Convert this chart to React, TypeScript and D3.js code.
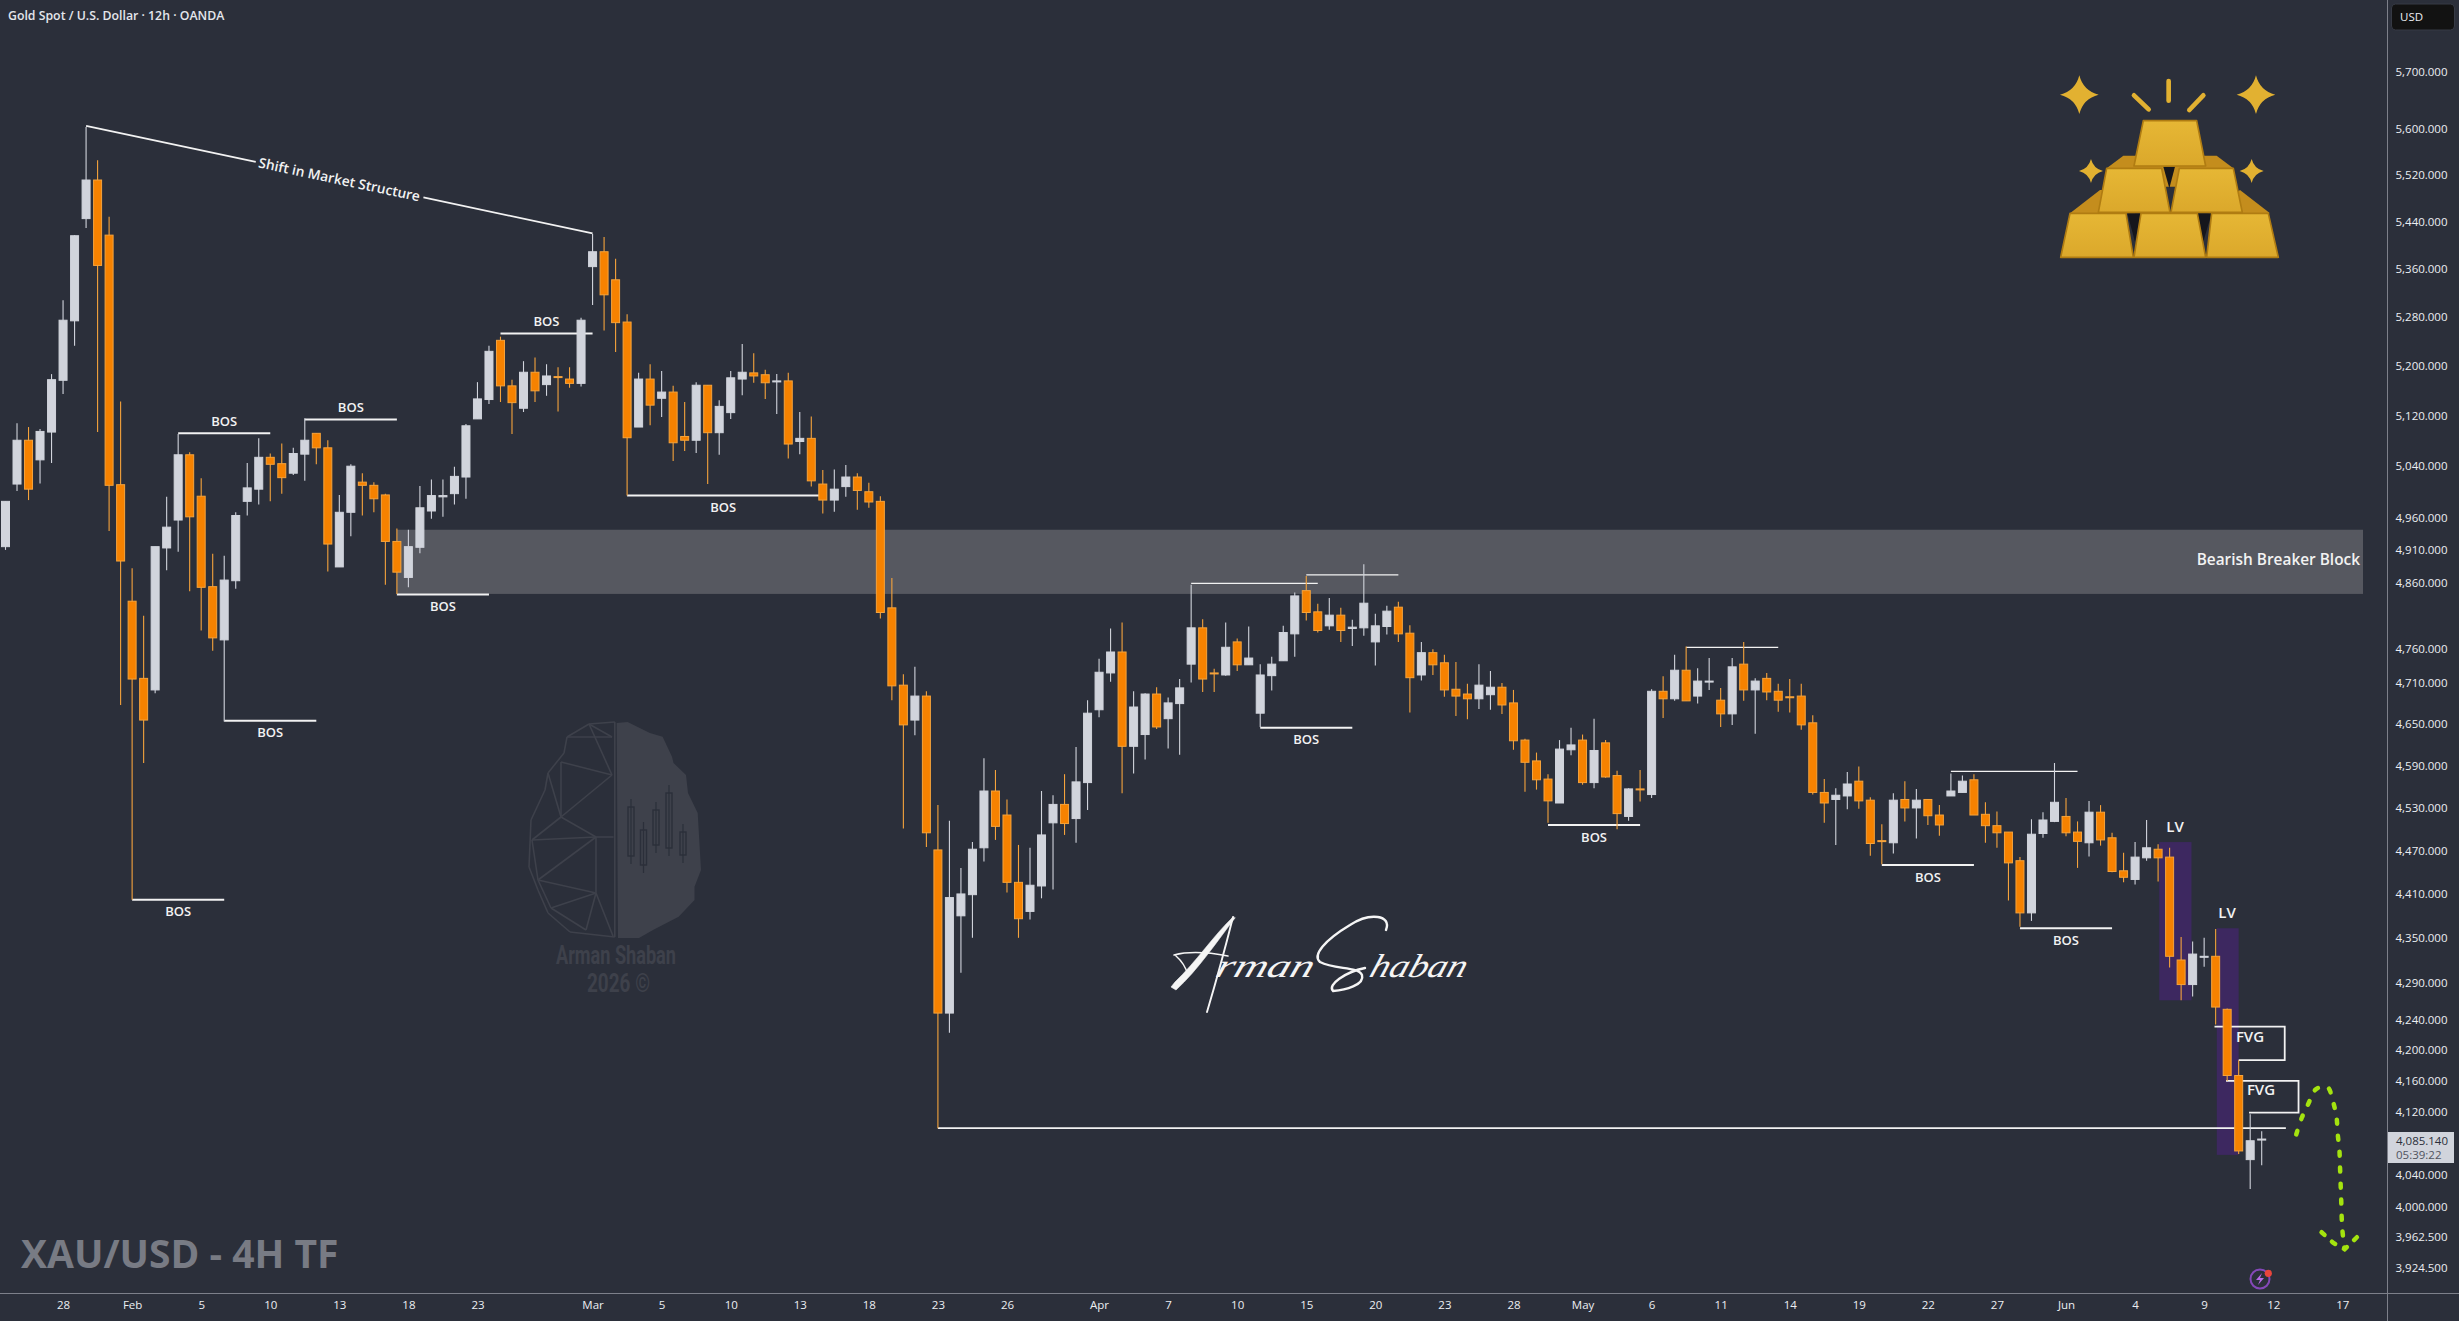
import { useEffect, useRef } from "react"
import * as d3 from 'd3'

const WIDTH = 2459
const HEIGHT = 1321
const AXIS_X = 2387.5
const AXIS_Y = 1293.5

const opens = [4915,5012,5081,5050,5094,5177,5274,5445,5511,5417,5011,4832,4717,4700,4913,4956,5058,4993,4854,4774,4863,4985,5004,5054,5044,5029,5059,5092,5069,4884,4968,5015,5010,4995,4923,4868,4914,4970,4992,4997,5023,5115,5146,5242,5168,5132,5190,5170,5183,5179,5172,5364,5389,5342,5272,5102,5179,5148,5158,5087,5081,5169,5093,5125,5179,5189,5186,5175,5176,5079,5084,5012,4987,5008,5023,5000,4985,4822,4707,4656,4691,4471,4249,4380,4409,4474,4554,4520,4426,4386,4421,4509,4535,4515,4566,4671,4725,4756,4618,4635,4694,4658,4680,4738,4792,4725,4722,4771,4737,4666,4721,4743,4783,4848,4816,4795,4811,4791,4792,4771,4794,4823,4784,4722,4755,4740,4701,4694,4687,4693,4704,4681,4627,4597,4571,4537,4613,4627,4566,4623,4576,4518,4557,4549,4698,4687,4729,4691,4712,4685,4665,4738,4700,4717,4698,4690,4691,4652,4552,4542,4547,4568,4541,4484,4481,4542,4530,4542,4520,4547,4552,4570,4521,4505,4496,4456,4384,4494,4511,4518,4496,4481,4524,4488,4442,4430,4460,4472,4461,4320,4287,4324,4325,4254,4167,4059,4084]
const highs = [4985,5108,5102,5099,5187,5308,5417,5603,5545,5448,5143,4882,4810,4915,4992,5091,5062,5021,4904,4901,4968,5045,5084,5060,5076,5069,5116,5092,5081,4995,5043,5029,5015,4997,4943,4941,5009,5019,5019,5039,5107,5174,5233,5248,5178,5208,5214,5203,5198,5198,5279,5419,5414,5377,5285,5189,5203,5192,5168,5142,5174,5169,5145,5192,5236,5221,5194,5187,5189,5126,5119,5034,5035,5042,5029,5014,4993,4867,4723,4734,4698,4534,4512,4446,4482,4601,4584,4542,4478,4474,4554,4548,4578,4617,4685,4746,4791,4800,4698,4695,4704,4689,4716,4857,4805,4731,4800,4776,4794,4738,4749,4795,4845,4870,4828,4837,4822,4804,4888,4813,4825,4831,4796,4771,4760,4752,4741,4709,4738,4728,4710,4700,4629,4609,4578,4627,4645,4635,4658,4627,4583,4558,4584,4701,4720,4752,4764,4732,4747,4703,4747,4771,4717,4725,4709,4716,4709,4663,4571,4558,4581,4589,4545,4507,4551,4568,4557,4542,4534,4579,4576,4578,4538,4525,4496,4461,4514,4524,4594,4544,4511,4540,4534,4495,4467,4482,4513,4479,4474,4351,4345,4350,4362,4255,4187,4117,4095]
const lows = [4910,5001,4987,5013,5045,5155,5233,5429,5094,4939,4678,4402,4594,4695,4879,4907,4847,4788,4758,4654,4851,4963,4980,4985,4997,5026,5017,5043,4877,4884,4931,4963,4968,4857,4843,4853,4905,4958,4961,4980,4989,5115,5139,5142,5091,5126,5142,5152,5127,5165,5167,5300,5258,5223,4994,5102,5105,5118,5048,5064,5061,5012,5058,5115,5153,5173,5147,5123,5052,5059,5008,4966,4969,4992,4972,4975,4806,4685,4501,4634,4475,4099,4223,4303,4350,4455,4485,4412,4350,4375,4404,4416,4492,4481,4527,4660,4712,4551,4579,4599,4643,4615,4606,4711,4697,4697,4721,4728,4737,4646,4699,4743,4749,4803,4785,4789,4771,4765,4780,4736,4782,4771,4667,4714,4722,4690,4662,4657,4672,4671,4665,4613,4553,4556,4509,4537,4605,4563,4558,4573,4500,4512,4539,4544,4659,4684,4684,4680,4700,4646,4649,4684,4636,4685,4668,4667,4642,4549,4509,4478,4528,4529,4463,4451,4466,4511,4487,4506,4491,4547,4552,4520,4481,4474,4401,4365,4373,4488,4510,4490,4446,4462,4477,4440,4426,4423,4456,4427,4310,4266,4271,4311,4234,4160,4066,4022,4052]
const closes = [4985,5081,5004,5095,5178,5275,5416,5511,5366,5010,4893,4716,4656,4915,4945,5058,4961,4853,4777,4864,4963,5006,5054,5043,5022,5060,5081,5069,4919,4968,5040,5010,4989,4923,4876,4915,4975,4994,4994,5024,5104,5147,5224,5168,5141,5190,5160,5184,5182,5172,5275,5389,5317,5271,5085,5179,5137,5158,5077,5081,5169,5093,5135,5181,5190,5184,5173,5176,5075,5084,5017,4987,5004,5023,5002,4984,4815,4706,4649,4691,4495,4249,4405,4410,4472,4554,4504,4426,4376,4422,4492,4535,4508,4567,4666,4726,4756,4618,4675,4694,4646,4681,4703,4792,4716,4724,4763,4737,4747,4722,4738,4785,4840,4815,4788,4811,4788,4793,4829,4795,4817,4783,4718,4755,4737,4700,4691,4687,4707,4704,4678,4626,4595,4570,4540,4614,4620,4566,4612,4574,4522,4557,4556,4698,4687,4729,4684,4713,4713,4665,4734,4700,4713,4697,4685,4689,4649,4552,4537,4548,4564,4540,4480,4483,4541,4530,4541,4519,4506,4554,4568,4520,4505,4495,4453,4384,4493,4513,4538,4495,4483,4524,4485,4441,4433,4461,4474,4460,4325,4287,4328,4325,4257,4167,4070,4083,4085.14]

const priceTicks = [5700,5600,5520,5440,5360,5280,5200,5120,5040,4960,4910,4860,4760,4710,4650,4590,4530,4470,4410,4350,4290,4240,4200,4160,4120,4040,4000,3962.5,3924.5]
const dateBars = [5,11,17,23,29,35,41,51,57,63,69,75,81,87,95,101,107,113,119,125,131,137,143,149,155,161,167,173,179,185,191,197,203]
const dateLabels = ['28','Feb','5','10','13','18','23','Mar','5','10','13','18','23','26','Apr','7','10','15','20','23','28','May','6','11','14','19','22','27','Jun','4','9','12','17']

// structure breaks: from bar, to bar, price, where the label goes
const bosFrom = [15,26,34,43,11,19,54,109,134,163,175]
const bosTo = [23,34,42,51,19,27,70.7,117,142,171,183]
const bosPrice = [5092,5114,4842,5253,4402,4655,4994,4645,4506,4450,4363]
const bosSide = [-1,-1,1,-1,1,1,1,1,1,1,1]
const highFrom = [103,113,146,169]
const highTo = [114,121,154,180]
const highPrice = [4859,4872,4763,4582]

const projectionBars = [199,199.5,200.07,200.7,201.7,202.2,202.5,202.6,202.75,202.8,202.9,203,203.2]
const projectionPrices = [4091,4113,4131,4149,4152,4133,4113,4092,4071,4051,4011,3972,3948]
const headBars = [201.2,202.2,203.2,204.5]
const headPrices = [3968,3955,3947,3965]

const gold = '#e2b131'
const goldDark = '#c48d1d'
const goldEdge = '#b07c12'
const shade = '#3e414b'

const starPath = (cx: number, cy: number, r: number) => {
  const k = r * 0.2
  return `M${cx},${cy - r}Q${cx + k},${cy - k} ${cx + r},${cy}Q${cx + k},${cy + k} ${cx},${cy + r}Q${cx - k},${cy + k} ${cx - r},${cy}Q${cx - k},${cy - k} ${cx},${cy - r}Z`
}

export default function App() {
  const svgRef = useRef<SVGSVGElement>(null)

  useEffect(() => {
    if (!svgRef.current) return
    const svg = d3.select(svgRef.current)
    svg.selectAll('*').remove()

    const x = d3.scaleLinear().domain([0, 196]).range([5.5, 2261.7])
    const y = d3.scaleLog().domain([5700, 3962.5]).range([72, 1236.7])
    const uiFont = '"Open Sans", "Noto Sans", sans-serif'

    svg.append('rect').attr('width', WIDTH).attr('height', HEIGHT).attr('fill', '#2b2f3a')

    // watermark logo
    const logo = svg.append('g')
    logo.append('path')
      .attr('d', 'M616.7,723L627.6,722L649.9,733L662.6,736.7L672,756.7L673.5,763L686,775L688,793L697.7,813L701,870L694.5,886.7L694.5,900L678.6,916.7L653,930L639,938L618,938Z')
      .attr('fill', shade)
    const mesh = [
      [614.8,722,589,724],[589,724,567,737],[567,737,564,753],[564,753,548,773],[548,773,545,790],[545,790,531,820],[531,820,529,867],[529,867,538,890],[538,890,548,913],[548,913,570,932],[570,932,614.8,937],
      [614.8,722,614.8,937],[561,762,612,775],[567,737,612,737],[589,724,612,737],[612,775,561,817],[561,817,596,837],[561,817,532,840],[532,840,596,837],[596,837,613.5,837],[596,837,538,880],[532,840,538,880],
      [596,837,596,893],[538,880,596,893],[596,893,551,908],[538,880,551,908],[596,893,586,930],[551,908,586,930],[596,893,613,936],[561,762,561,817],[589,724,612,775],[561,817,548,773],
    ]
    logo.selectAll('line.mesh').data(mesh).join('line')
      .attr('x1', d => d[0]).attr('y1', d => d[1]).attr('x2', d => d[2]).attr('y2', d => d[3])
      .attr('stroke', shade).attr('stroke-width', 1.6)
    const logoCandles = [[631,807,856],[643.5,830,865],[656,810,845],[669,793,848],[683,832,855]]
    logoCandles.forEach(c => {
      logo.append('rect').attr('x', c[0] - 3).attr('y', c[1]).attr('width', 6).attr('height', c[2] - c[1])
        .attr('fill', 'none').attr('stroke', '#2b2f3a').attr('stroke-width', 1.4)
      logo.append('line').attr('x1', c[0]).attr('x2', c[0]).attr('y1', c[1] - 8).attr('y2', c[2] + 8)
        .attr('stroke', '#2b2f3a').attr('stroke-width', 1.2)
    })
    logo.append('text').attr('x', 556).attr('y', 964)
      .attr('font-family', '"Roboto", sans-serif').attr('font-weight', 700).attr('font-size', 25)
      .attr('textLength', 120).attr('lengthAdjust', 'spacingAndGlyphs')
      .attr('fill', shade).text('Arman Shaban')
    logo.append('text').attr('x', 587).attr('y', 992)
      .attr('font-family', '"Roboto", sans-serif').attr('font-weight', 700).attr('font-size', 25)
      .attr('textLength', 63).attr('lengthAdjust', 'spacingAndGlyphs')
      .attr('fill', shade).text('2026 ©')

    // breaker block and low volume zones
    svg.append('rect').attr('x', 397).attr('width', 2363 - 397)
      .attr('y', y(4941)).attr('height', y(4843) - y(4941))
      .attr('fill', '#565860')
    svg.append('rect').attr('x', x(187.1)).attr('width', x(189.9) - x(187.1))
      .attr('y', y(4482)).attr('height', y(4266) - y(4482)).attr('fill', '#3d2860')
    svg.append('rect').attr('x', x(192.1)).attr('width', x(194)  - x(192.1))
      .attr('y', y(4363)).attr('height', y(4065) - y(4363)).attr('fill', '#3d2860')

    // candles
    const bars = d3.range(opens.length)
    const candles = svg.append('g')
    const upColor = '#d1d4dc'
    const wick = (i: number) => closes[i] >= opens[i] ? upColor : '#f5a33c'
    candles.selectAll('line').data(bars).join('line')
      .attr('x1', i => x(i)).attr('x2', i => x(i))
      .attr('y1', i => y(highs[i])).attr('y2', i => y(lows[i]))
      .attr('stroke', wick).attr('stroke-width', 1.1)
    candles.selectAll('rect').data(bars).join('rect')
      .attr('x', i => x(i) - 4)
      .attr('width', 8)
      .attr('y', i => y(Math.max(opens[i], closes[i])))
      .attr('height', i => Math.max(1, Math.abs(y(opens[i]) - y(closes[i]))))
      .attr('fill', i => closes[i] >= opens[i] ? upColor : '#f68200')
      .attr('stroke', wick).attr('stroke-width', 1)

    // structure lines
    const lines = svg.append('g').attr('stroke', '#f2f2f2').attr('fill', 'none')
    bosFrom.forEach((from, k) => {
      lines.append('line')
        .attr('x1', x(from)).attr('x2', x(bosTo[k]))
        .attr('y1', y(bosPrice[k])).attr('y2', y(bosPrice[k]))
        .attr('stroke-width', 2)
      svg.append('text')
        .attr('x', x((from + bosTo[k]) / 2)).attr('y', y(bosPrice[k]) + bosSide[k] * 12)
        .attr('dy', '.35em').attr('text-anchor', 'middle')
        .attr('font-family', uiFont).attr('font-weight', 600).attr('font-size', 13)
        .attr('fill', '#f2f2f2').text('BOS')
    })
    highFrom.forEach((from, k) => {
      lines.append('line')
        .attr('x1', x(from)).attr('x2', x(highTo[k]))
        .attr('y1', y(highPrice[k])).attr('y2', y(highPrice[k]))
        .attr('stroke-width', 1.3)
    })
    lines.append('line').attr('x1', x(81)).attr('x2', x(198.1))
      .attr('y1', y(4099)).attr('y2', y(4099)).attr('stroke-width', 1.8)

    // shift in market structure
    const mx0 = x(7), my0 = y(5605), mx1 = x(51), my1 = y(5420)
    const along = (t: number) => [mx0 + (mx1 - mx0) * t, my0 + (my1 - my0) * t]
    const a = along(0.335), b = along(0.666), c = along(0.5)
    lines.append('path').attr('d', `M${mx0},${my0}L${a[0]},${a[1]}M${b[0]},${b[1]}L${mx1},${my1}`).attr('stroke-width', 1.8)
    svg.append('text')
      .attr('transform', `translate(${c[0]},${c[1]}) rotate(${Math.atan2(my1 - my0, mx1 - mx0) * 180 / Math.PI})`)
      .attr('dy', '.35em').attr('text-anchor', 'middle')
      .attr('font-family', uiFont).attr('font-weight', 600).attr('font-size', 13.8)
      .attr('fill', '#f2f2f2').text('Shift in Market Structure')

    // labels on zones
    svg.append('text').attr('x', 2360).attr('y', 560).attr('dy', '.35em').attr('text-anchor', 'end')
      .attr('font-family', uiFont).attr('font-weight', 600).attr('font-size', 15.4)
      .attr('fill', '#f2f2f2').text('Bearish Breaker Block')
    const smallLabels: [string, number, number][] = [['LV', 2175, 827], ['LV', 2227, 913], ['FVG', 2250, 1037], ['FVG', 2261, 1090]]
    smallLabels.forEach(l => {
      svg.append('text').attr('x', l[1]).attr('y', l[2]).attr('dy', '.35em').attr('text-anchor', 'middle')
        .attr('font-family', uiFont).attr('font-weight', 600).attr('font-size', 15)
        .attr('fill', '#f2f2f2').text(l[0])
    })

    // fair value gap boxes
    const gapTop = [4231, 4160], gapBottom = [4187, 4119], gapLeft = [191.9, 192.9], gapBottomLeft = [194, 194.9], gapRight = [198, 199.2]
    gapTop.forEach((t, k) => {
      lines.append('path')
        .attr('d', `M${x(gapLeft[k])},${y(t)}L${x(gapRight[k])},${y(t)}L${x(gapRight[k])},${y(gapBottom[k])}L${x(gapBottomLeft[k])},${y(gapBottom[k])}`)
        .attr('stroke-width', 1.8)
    })
    // candles sit over the boxes and the long level
    candles.raise()

    // projected path
    const dashed = d3.line<number>()
      .x((_, i) => x(projectionBars[i]))
      .y((_, i) => y(projectionPrices[i]))
      .curve(d3.curveCatmullRom)
    svg.append('path').datum(projectionBars).attr('d', dashed)
      .attr('fill', 'none').attr('stroke', '#a4e30f').attr('stroke-width', 4.5)
      .attr('stroke-linecap', 'round').attr('stroke-dasharray', '4 12')
    const head = d3.line<number>().x((_, i) => x(headBars[i])).y((_, i) => y(headPrices[i]))
    svg.append('path').datum(headBars).attr('d', head)
      .attr('fill', 'none').attr('stroke', '#a4e30f').attr('stroke-width', 4.5)
      .attr('stroke-linecap', 'round').attr('stroke-dasharray', '4 10')

    // signature: brush capitals with the small letters as text
    const sig = svg.append('g').attr('fill', 'none').attr('stroke', '#f5f5f5').attr('stroke-linecap', 'round')
    sig.append('path').attr('d', 'M1233,917C1214,935 1196,962 1175,982L1171,987L1176,990C1198,970 1218,940 1235,918Z').attr('fill', '#f5f5f5').attr('stroke-width', 0.6)
    sig.append('path').attr('d', 'M1233,917C1226,945 1215,985 1207,1012').attr('stroke-width', 1.9)
    sig.append('path').attr('d', 'M1174,955C1190,951 1212,953 1228,956M1176,956C1183,962 1186,968 1188,975').attr('stroke-width', 1.5)
    sig.append('path').attr('d', 'M1386,930C1392,915 1370,912 1350,925C1325,940 1312,955 1320,962C1335,970 1358,966 1362,975C1365,985 1345,990 1333,991C1327,985 1345,972 1365,968').attr('stroke-width', 2.4)
    const sigText: [string, number, number][] = [['rman', 1214, 97], ['haban', 1368, 96]]
    sigText.forEach(s => {
      svg.append('text').attr('transform', `translate(${s[1]},977) skewX(-18)`)
        .attr('font-family', '"Liberation Serif", serif').attr('font-style', 'italic')
        .attr('font-size', 33).attr('textLength', s[2]).attr('lengthAdjust', 'spacingAndGlyphs')
        .attr('fill', '#f5f5f5').text(s[0])
    })

    // gold bars
    const defs = svg.append('defs')
    const grad = defs.append('linearGradient').attr('id', 'goldFace').attr('x1', 0).attr('y1', 0).attr('x2', 0).attr('y2', 1)
    grad.append('stop').attr('offset', 0).attr('stop-color', '#e6b735')
    grad.append('stop').attr('offset', 1).attr('stop-color', '#dba82b')
    const bg = svg.append('g').attr('transform', 'translate(2040,0) scale(0.3333)')
    const back = ['90,640 180,570 285,570 285,640', '505,640 600,570 690,640', '200,505 250,467 500,467 530,467 580,505 500,560 300,560']
    bg.selectAll('polygon.back').data(back).join('polygon').attr('points', d => d).attr('fill', goldDark)
    const gaps = ['262,640 303,640 285,725', '472,640 515,640 490,725', '370,500 405,500 388,565']
    bg.selectAll('polygon.gap').data(gaps).join('polygon').attr('points', d => d).attr('fill', '#15161c')
    const faces = [
      '90,640 258,640 280,772 62,772', '303,640 472,640 497,772 282,772', '515,640 685,640 715,772 500,772',
      '200,505 365,505 390,637 175,637', '418,505 580,505 607,637 393,637', '310,362 470,362 497,498 282,498',
    ]
    bg.selectAll('polygon.face').data(faces).join('polygon').attr('points', d => d)
      .attr('fill', 'url(#goldFace)').attr('stroke', goldEdge).attr('stroke-width', 5).attr('stroke-linejoin', 'round')
    const rays = [[386, 243, 386, 302], [282, 286, 326, 328], [490, 286, 448, 330]]
    bg.selectAll('line').data(rays).join('line')
      .attr('x1', d => d[0]).attr('y1', d => d[1]).attr('x2', d => d[2]).attr('y2', d => d[3])
      .attr('stroke', gold).attr('stroke-width', 14).attr('stroke-linecap', 'round')
    const stars = [[118, 284, 58], [648, 284, 58], [153, 513, 36], [635, 513, 36]]
    bg.selectAll('path').data(stars).join('path').attr('d', d => starPath(d[0], d[1], d[2])).attr('fill', gold)

    // frame and axes
    svg.append('rect').attr('x', AXIS_X).attr('width', WIDTH - AXIS_X).attr('height', HEIGHT).attr('fill', '#2b2f3a')
    svg.append('rect').attr('y', AXIS_Y).attr('width', WIDTH).attr('height', HEIGHT - AXIS_Y).attr('fill', '#2b2f3a')
    svg.append('line').attr('x1', AXIS_X).attr('x2', AXIS_X).attr('y1', 0).attr('y2', HEIGHT).attr('stroke', '#7d808a')
    svg.append('line').attr('x1', 0).attr('x2', WIDTH).attr('y1', AXIS_Y).attr('y2', AXIS_Y).attr('stroke', '#7d808a')

    const yAxis = svg.append('g').attr('transform', `translate(${AXIS_X},0)`)
      .call(d3.axisRight(y).tickValues(priceTicks).tickFormat(d => d3.format(',.3f')(+d)).tickSize(0).tickPadding(8))
    yAxis.select('.domain').remove()
    yAxis.selectAll('text').attr('font-family', uiFont).attr('font-size', 11.5).attr('fill', '#eceef2')

    const xAxis = svg.append('g').attr('transform', `translate(0,${AXIS_Y})`)
      .call(d3.axisBottom(x).tickValues(dateBars).tickFormat((_, i) => dateLabels[i]).tickSize(0).tickPadding(7))
    xAxis.select('.domain').remove()
    xAxis.selectAll('text').attr('font-family', uiFont).attr('font-size', 11.5).attr('fill', '#eceef2')

    // last price tag
    svg.append('rect').attr('x', 2388).attr('y', 1132).attr('width', 66).attr('height', 31).attr('fill', upColor)
    svg.append('text').attr('x', 2396).attr('y', 1145).attr('font-family', uiFont).attr('font-size', 11.5)
      .attr('fill', '#2b2f3a').text(d3.format(',.3f')(closes[closes.length - 1]))
    svg.append('text').attr('x', 2396).attr('y', 1159).attr('font-family', uiFont).attr('font-size', 11.5)
      .attr('fill', '#50535e').text('05:39:22')

    // currency button
    svg.append('rect').attr('x', 2391.5).attr('y', 4).attr('width', 63).attr('height', 26).attr('rx', 4)
      .attr('fill', '#121212').attr('stroke', '#363a45')
    svg.append('text').attr('x', 2400).attr('y', 17).attr('dy', '.35em').attr('font-family', uiFont)
      .attr('font-size', 11.5).attr('fill', '#eceef2').text('USD')

    // titles
    svg.append('text').attr('x', 8).attr('y', 16).attr('dy', '.35em').attr('font-family', uiFont)
      .attr('font-weight', 600).attr('font-size', 12.3).attr('fill', '#e4e6ec')
      .text('Gold Spot / U.S. Dollar · 12h · OANDA')
    svg.append('text').attr('x', 21).attr('y', 1267.5).attr('font-family', uiFont)
      .attr('font-weight', 700).attr('font-size', 39).attr('fill', '#787b84')
      .text('XAU/USD - 4H TF')

    // small marker near the bottom
    const mark = svg.append('g').attr('transform', 'translate(2260,1279)')
    mark.append('circle').attr('r', 9.5).attr('fill', '#2b2f3a').attr('stroke', '#8448b8').attr('stroke-width', 2)
    mark.append('path').attr('d', 'M2,-6L-4,1L0,1L-2,6L4,-1L0,-1Z').attr('fill', '#b56be6')
    mark.append('circle').attr('cx', 8.3).attr('cy', -5.7).attr('r', 3.6).attr('fill', '#e8453c')
  }, [])

  return (
    <svg ref={svgRef} width={WIDTH} height={HEIGHT} style={{ position: 'fixed', left: 0, top: 0, display: 'block' }}></svg>
  )
}
